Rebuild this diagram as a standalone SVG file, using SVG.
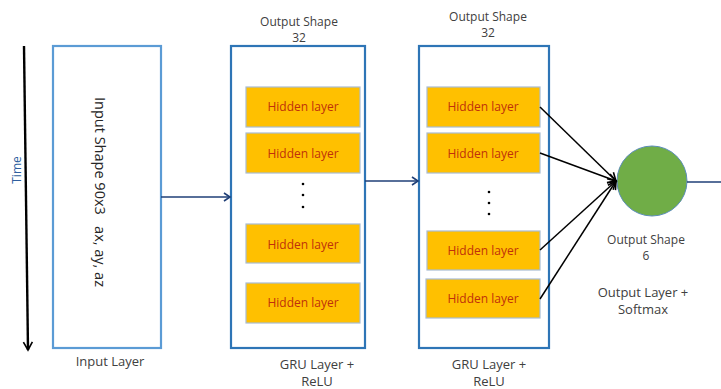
<svg xmlns="http://www.w3.org/2000/svg" width="721" height="389" viewBox="0 0 721 389">
<defs>
<marker id="navyArrow" markerWidth="10" markerHeight="10" refX="8" refY="5" orient="auto" markerUnits="userSpaceOnUse">
<path d="M2,1 L8,5 L2,9" fill="none" stroke="#1F3F77" stroke-width="1.6"/>
</marker>
<marker id="blackArrow" markerWidth="12" markerHeight="12" refX="10" refY="6" orient="auto" markerUnits="userSpaceOnUse">
<path d="M2,1.5 L10,6 L2,10.5" fill="none" stroke="#000" stroke-width="1.6"/>
</marker>
</defs>
<style>
.lbl{font-family:"Open Sans","Liberation Sans",sans-serif;font-size:12px;fill:#404040;text-anchor:middle}
.big{font-size:13px}
.layer{fill:#fff;stroke-width:2.2}
.hid{fill:#FFC000;stroke:#A9BCD3;stroke-width:1.2}
.hidt{font-family:"Open Sans","Liberation Sans",sans-serif;font-size:12px;fill:#C0300A;text-anchor:middle}
.dot{fill:#000}
.nav{stroke:#1F3F77;stroke-width:1.6;fill:none}
.blk{stroke:#000;stroke-width:1.5;fill:none}
</style>
<g id="time">
<line x1="24" y1="46" x2="28" y2="350" stroke="#000" stroke-width="2.4" marker-end="url(#blackArrow)"/>
<text class="lbl" x="0" y="0" transform="translate(21,170) rotate(-90)" style="fill:#2E5E9E;font-size:12px">Time</text>
</g>
<g id="input">
<rect class="layer" x="53" y="46" width="108" height="302" stroke="#5B9BD5"/>
<text x="0" y="0" transform="translate(95,192) rotate(90)" style="font-family:'Open Sans','Liberation Sans',sans-serif;font-size:14.5px;fill:#262626;text-anchor:middle" xml:space="preserve">Input Shape 90x3   ax, ay, az</text>
<text class="lbl big" x="110" y="366">Input Layer</text>
</g>
<g id="gru1">
<text class="lbl" x="299" y="26">Output Shape</text>
<text class="lbl" x="299" y="42">32</text>
<rect class="layer" x="231" y="46" width="134" height="302" stroke="#2E75B6"/>
<rect class="hid" x="246" y="87" width="114" height="40"/>
<text class="hidt" x="303" y="111">Hidden layer</text>
<rect class="hid" x="246" y="133" width="114" height="40"/>
<text class="hidt" x="303" y="158">Hidden layer</text>
<circle class="dot" cx="303" cy="184" r="1.3"/>
<circle class="dot" cx="303" cy="195" r="1.3"/>
<circle class="dot" cx="303" cy="207" r="1.3"/>
<rect class="hid" x="246" y="224" width="114" height="39"/>
<text class="hidt" x="303" y="249">Hidden layer</text>
<rect class="hid" x="246" y="283" width="114" height="40"/>
<text class="hidt" x="303" y="307">Hidden layer</text>
<text class="lbl big" x="317" y="369">GRU Layer +</text>
<text class="lbl big" x="317" y="386">ReLU</text>
</g>
<g id="gru2">
<text class="lbl" x="488" y="21">Output Shape</text>
<text class="lbl" x="488" y="37">32</text>
<rect class="layer" x="419" y="46" width="130" height="302" stroke="#2E75B6"/>
<rect class="hid" x="427" y="87" width="113" height="40"/>
<text class="hidt" x="483" y="111">Hidden layer</text>
<rect class="hid" x="427" y="133" width="113" height="40"/>
<text class="hidt" x="483" y="158">Hidden layer</text>
<circle class="dot" cx="489" cy="192" r="1.3"/>
<circle class="dot" cx="489" cy="203" r="1.3"/>
<circle class="dot" cx="489" cy="214" r="1.3"/>
<rect class="hid" x="427" y="231" width="113" height="39"/>
<text class="hidt" x="483" y="255">Hidden layer</text>
<rect class="hid" x="426" y="279" width="114" height="39"/>
<text class="hidt" x="483" y="303">Hidden layer</text>
<text class="lbl big" x="489" y="369">GRU Layer +</text>
<text class="lbl big" x="489" y="386">ReLU</text>
</g>
<g id="output">
<circle cx="652" cy="181" r="35" fill="#70AD47" stroke="#5B8DB8" stroke-width="1"/>
<text class="lbl" x="646" y="244">Output Shape</text>
<text class="lbl" x="646" y="260">6</text>
<text class="lbl big" x="643" y="297">Output Layer +</text>
<text class="lbl big" x="643" y="314">Softmax</text>
</g>
<g id="connectors">
<line class="nav" x1="161" y1="197" x2="230" y2="197" marker-end="url(#navyArrow)"/>
<line class="nav" x1="365" y1="181" x2="418" y2="181" marker-end="url(#navyArrow)"/>
<line class="nav" x1="687" y1="182" x2="721" y2="182"/>
<line class="blk" x1="540" y1="107" x2="616" y2="181" marker-end="url(#blackArrow)"/>
<line class="blk" x1="540" y1="153" x2="616" y2="181" marker-end="url(#blackArrow)"/>
<line class="blk" x1="540" y1="250" x2="616" y2="181" marker-end="url(#blackArrow)"/>
<line class="blk" x1="540" y1="299" x2="616" y2="181" marker-end="url(#blackArrow)"/>
</g>
</svg>
